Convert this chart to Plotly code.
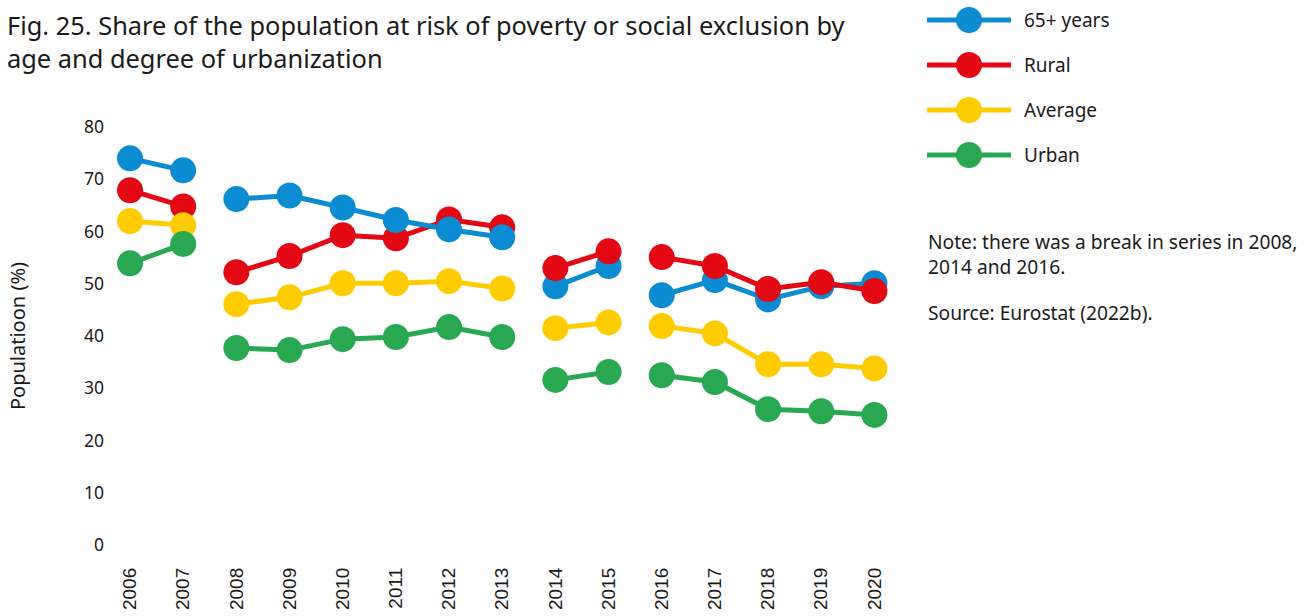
import plotly.graph_objects as go

# Survey years and breaks in the series
years = list(range(2006, 2021))
break_years = [2008, 2014, 2016]

# Share of population at risk of poverty or social exclusion (%)
elderly_65 = [74.0, 71.7, 66.2, 66.9, 64.6, 62.2, 60.4, 58.9, 49.5, 53.4, 47.8, 50.7, 47.0, 49.5, 50.1]
rural = [67.9, 64.8, 52.2, 55.3, 59.3, 58.7, 62.3, 60.8, 53.0, 56.2, 55.1, 53.4, 49.0, 50.3, 48.6]
average = [62.0, 61.2, 46.1, 47.4, 50.1, 50.1, 50.5, 49.1, 41.5, 42.6, 41.9, 40.5, 34.6, 34.6, 33.8]
urban = [53.9, 57.6, 37.7, 37.3, 39.4, 39.8, 41.7, 39.8, 31.6, 33.1, 32.5, 31.2, 26.0, 25.6, 24.9]

series = {
    "65+ years": (elderly_65, "#0A8BD2"),
    "Rural": (rural, "#E30613"),
    "Average": (average, "#FFCC00"),
    "Urban": (urban, "#27A851"),
}
legend_order = ["65+ years", "Rural", "Average", "Urban"]

W, H = 1314, 616
M = dict(l=105, r=413, t=127, b=71)
PW = W - M["l"] - M["r"]
PH = H - M["t"] - M["b"]


def px(x):
    return (x - M["l"]) / PW


def py(y):
    return (H - M["b"] - y) / PH


FONT = "Noto Sans, Open Sans, sans-serif"
INK = "#1a1a1a"

# split the years into unbroken segments
bounds = [years[0]] + break_years + [years[-1] + 1]
segments = [(bounds[i], bounds[i + 1]) for i in range(len(bounds) - 1)]

fig = go.Figure()
for s0, s1 in segments:
    # stacking order of the series within each segment
    if s0 < 2014:
        order = ["Rural", "65+ years", "Average", "Urban"]
    else:
        order = ["65+ years", "Rural", "Average", "Urban"]
    idx = [i for i, yr in enumerate(years) if s0 <= yr < s1]
    for name in order:
        vals, color = series[name]
        fig.add_trace(go.Scatter(
            x=[years[i] for i in idx],
            y=[vals[i] for i in idx],
            mode="lines+markers",
            name=name,
            legendgroup=name,
            showlegend=False,
            line=dict(color=color, width=5),
            marker=dict(color=color, size=26),
            cliponaxis=False,
            hovertemplate="%{x}: %{y:.1f}%<extra>" + name + "</extra>",
        ))

# legend drawn as line + dot swatches
shapes = []
annotations = []
leg_y = [20, 65, 110, 155]
for name, yy in zip(legend_order, leg_y):
    color = series[name][1]
    shapes.append(dict(type="line", xref="paper", yref="paper",
                       x0=px(927), x1=px(1011), y0=py(yy), y1=py(yy),
                       line=dict(color=color, width=5)))
    shapes.append(dict(type="circle", xref="paper", yref="paper",
                       xsizemode="pixel", ysizemode="pixel",
                       xanchor=px(969), yanchor=py(yy),
                       x0=-13, x1=13, y0=-13, y1=13,
                       fillcolor=color, line=dict(width=0)))
    annotations.append(dict(text=name, xref="paper", yref="paper",
                            x=px(1022), y=py(yy), xanchor="left", yanchor="middle",
                            showarrow=False, font=dict(family=FONT, size=19, color=INK)))

annotations.append(dict(
    text="Note: there was a break in series in 2008,<br>2014 and 2016.",
    xref="paper", yref="paper", x=px(926), y=py(254), xanchor="left", yanchor="middle",
    align="left", showarrow=False, font=dict(family=FONT, size=19.2, color=INK)))
annotations.append(dict(
    text="Source: Eurostat (2022b).",
    xref="paper", yref="paper", x=px(926), y=py(312), xanchor="left", yanchor="middle",
    align="left", showarrow=False, font=dict(family=FONT, size=19.2, color=INK)))

annotations.append(dict(
    text="Fig. 25. Share of the population at risk of poverty or social exclusion by<br>age and degree of urbanization",
    xref="paper", yref="paper", x=px(5), y=py(6), xanchor="left", yanchor="top",
    align="left", showarrow=False, font=dict(family=FONT, size=25.4, color=INK)))

fig.update_layout(
    width=W, height=H,
    margin=M,
    paper_bgcolor="white",
    plot_bgcolor="white",
    showlegend=False,
    shapes=shapes,
    annotations=annotations,
    xaxis=dict(
        range=[2006 - 25 / 53.14, 2020.5],
        tickmode="array", tickvals=years, ticktext=[str(y) for y in years],
        tickangle=-90, showgrid=False, zeroline=False, showline=False,
        ticks="", ticklabelstandoff=18, automargin=False,
        tickfont=dict(family="Liberation Sans, Arial, sans-serif", size=19, color=INK),
    ),
    yaxis=dict(
        range=[0, 80], tickvals=[0, 10, 20, 30, 40, 50, 60, 70, 80],
        showgrid=False, zeroline=False, showline=False, ticks="", automargin=False,
        tickfont=dict(family=FONT, size=17.5, color=INK),
        title=dict(text="Populatioon (%)", standoff=52,
                   font=dict(family=FONT, size=20, color=INK)),
    ),
)

fig.write_html("out.html")
